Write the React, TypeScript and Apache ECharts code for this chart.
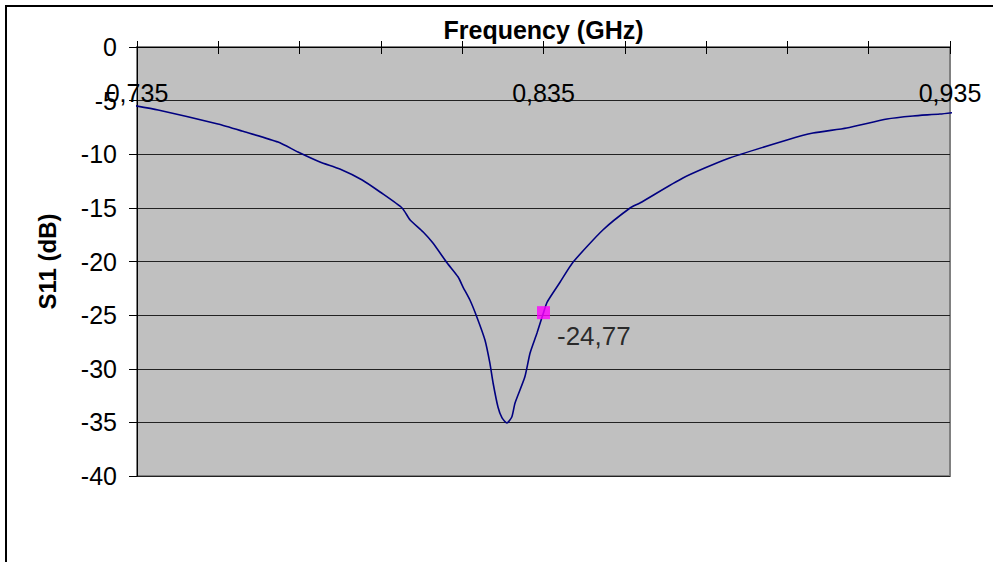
import React, { useEffect, useRef } from "react";
import * as echarts from "echarts";

const freqGHz = [
  0.7335, 0.7402, 0.7549, 0.7608, 0.7697, 0.7746, 0.78, 0.7849, 0.7904, 0.7948,
  0.8002, 0.8022, 0.8054, 0.8078, 0.8113, 0.814, 0.8152, 0.8169, 0.8186, 0.8206,
  0.8218, 0.8226, 0.8238, 0.8248, 0.826, 0.8272, 0.828, 0.8304, 0.8317, 0.8334,
  0.835, 0.8359, 0.8391, 0.8423, 0.8496, 0.8563, 0.8587, 0.8693, 0.8801, 0.8949,
  0.9013, 0.9096, 0.9195, 0.9259, 0.9325, 0.937,
];
const s11dB = [
  -5.41, -5.87, -7.18, -7.83, -8.86, -9.79, -10.72, -11.38, -12.4, -13.52,
  -15.01, -16.13, -17.25, -18.28, -20.14, -21.45, -22.38, -23.59, -25.17, -27.32,
  -29.46, -31.33, -33.57, -34.59, -35.06, -34.5, -33.19, -30.77, -28.53, -26.67,
  -24.77, -23.78, -21.91, -20.05, -17.06, -15.01, -14.55, -12.21, -10.44, -8.67,
  -8.02, -7.55, -6.71, -6.43, -6.25, -6.06,
];
const markerPoint = [0.835, -24.77];
const markerLabel = "-24,77";
const xLabeled = [0.735, 0.835, 0.935];
const xTitle = "Frequency (GHz)";
const yTitle = "S11 (dB)";

const FONT = "'Liberation Sans', Arial, sans-serif";

export default function App() {
  const ref = useRef<HTMLDivElement>(null);
  useEffect(() => {
    if (!ref.current) return;
    const chart = echarts.init(ref.current, undefined, { renderer: "svg" });
    const xMin = 0.735;
    const xMax = 0.935;
    const fmtX = (v: number) => {
      const hit = xLabeled.find((t) => Math.abs(t - v) < 0.002);
      return hit !== undefined ? hit.toFixed(3).replace(".", ",") : "";
    };
    chart.setOption({
      animation: false,
      textStyle: { fontFamily: FONT },
      graphic: [
        {
          type: "rect",
          shape: { x: 6, y: 6, width: 1200, height: 1000 },
          style: { fill: "none", stroke: "#000", lineWidth: 2 },
          silent: true,
          z: 100,
        },
      ],
      grid: {
        left: 137,
        top: 47,
        right: 43,
        bottom: 86,
        show: true,
        backgroundColor: "#C0C0C0",
        borderColor: "#808080",
        borderWidth: 2,
      },
      xAxis: [
        {
          type: "value",
          position: "top",
          min: xMin,
          max: xMax,
          interval: 0.02,
          name: xTitle,
          nameLocation: "middle",
          nameGap: 3,
          nameTextStyle: { fontSize: 25, fontWeight: "bold", color: "#000", fontFamily: FONT },
          axisLine: { show: true, lineStyle: { color: "#000", width: 1 } },
          axisTick: { show: true, length: 6, inside: false, lineStyle: { color: "#000" } },
          axisLabel: {
            inside: true,
            margin: 33,
            fontSize: 25,
            color: "#000",
            fontFamily: FONT,
            formatter: fmtX,
            showMinLabel: true,
            showMaxLabel: true,
          },
          splitLine: { show: false },
        },
        {
          type: "value",
          position: "top",
          min: xMin,
          max: xMax,
          interval: 0.02,
          axisLine: { show: false },
          axisTick: { show: true, length: 7, inside: true, lineStyle: { color: "#000" } },
          axisLabel: { show: false },
          splitLine: { show: false },
        },
      ],
      yAxis: {
        type: "value",
        min: -40,
        max: 0,
        interval: 5,
        name: yTitle,
        nameLocation: "middle",
        nameGap: 78,
        nameTextStyle: { fontSize: 24, fontWeight: "bold", color: "#000", fontFamily: FONT },
        axisLine: { show: true, lineStyle: { color: "#000", width: 1 } },
        axisTick: { show: true, length: 8, lineStyle: { color: "#000" } },
        axisLabel: {
          margin: 20,
          fontSize: 25,
          color: "#000",
          fontFamily: FONT,
          formatter: (v: number) => String(v).replace(".", ","),
        },
        splitLine: { show: true, lineStyle: { color: "#222", width: 1 } },
      },
      series: [
        {
          type: "line",
          data: freqGHz.map((f, i) => [f, s11dB[i]]),
          xAxisIndex: 0,
          showSymbol: false,
          symbol: "none",
          smooth: 0.2,
          clip: false,
          lineStyle: { color: "#000080", width: 1.6 },
          z: 3,
        },
        {
          type: "scatter",
          data: [markerPoint],
          xAxisIndex: 0,
          symbol: "rect",
          symbolSize: 13,
          itemStyle: { color: "#FF00FF" },
          label: {
            show: true,
            position: "right",
            distance: 7,
            offset: [0, 23],
            formatter: () => markerLabel,
            fontSize: 26,
            color: "#000",
            fontFamily: FONT,
          },
          z: 5,
        },
      ],
    });
    return () => chart.dispose();
  }, []);
  return (
    <div
      ref={ref}
      style={{ position: "absolute", left: 0, top: 0, width: 993, height: 562 }}
    />
  );
}
